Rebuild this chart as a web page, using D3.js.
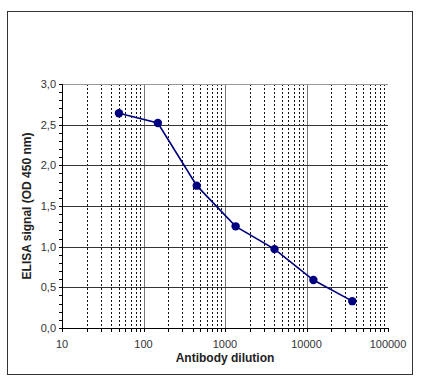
<!DOCTYPE html>
<html>
<head>
<meta charset="utf-8">
<script src="https://cdn.jsdelivr.net/npm/d3@7"></script>
<style>
  body { margin: 0; background: #fff; }
  text { font-family: "Liberation Sans", Arial, sans-serif; }
</style>
</head>
<body>
<div id="chart"></div>
<script>
// ELISA titration data
const dilutions = [50, 150, 450, 1350, 4050, 12150, 36450];
const signals = [2.64, 2.52, 1.75, 1.25, 0.97, 0.59, 0.33];
const xTicks = [10, 100, 1000, 10000, 100000];
const yTicks = [0, 0.5, 1, 1.5, 2, 2.5, 3];

const width = 421, height = 384;
const margin = { left: 62, right: 33, top: 84, bottom: 56 };

const svg = d3.select("#chart").append("svg")
    .attr("width", width)
    .attr("height", height);

// outer frame
svg.append("rect")
    .attr("x", 7.5).attr("y", 11.5)
    .attr("width", 405).attr("height", 363)
    .attr("fill", "none")
    .attr("stroke", "#333")
    .attr("stroke-width", 1);

const x = d3.scaleLog()
    .domain([10, 100000])
    .range([margin.left, width - margin.right]);

const y = d3.scaleLinear()
    .domain([0, 3])
    .range([height - margin.bottom, margin.top]);

// minor vertical grid (dashed)
const minor = [];
for (let e = 1; e < 5; e++) {
    for (let m = 2; m <= 9; m++) minor.push(m * Math.pow(10, e));
}
svg.append("g")
    .selectAll("line")
    .data(minor)
    .join("line")
    .attr("x1", d => Math.round(x(d)) + 0.5)
    .attr("x2", d => Math.round(x(d)) + 0.5)
    .attr("y1", y(3))
    .attr("y2", y(0))
    .attr("stroke", "#111")
    .attr("stroke-dasharray", "2,2");

// major vertical grid
svg.append("g")
    .selectAll("line")
    .data(xTicks.slice(1, -1))
    .join("line")
    .attr("x1", d => Math.round(x(d)) + 0.5)
    .attr("x2", d => Math.round(x(d)) + 0.5)
    .attr("y1", y(3))
    .attr("y2", y(0))
    .attr("stroke", "#777");

// horizontal grid
svg.append("g")
    .selectAll("line")
    .data(yTicks.slice(1))
    .join("line")
    .attr("x1", x(10))
    .attr("x2", x(100000))
    .attr("y1", d => Math.round(y(d)) + 0.5)
    .attr("y2", d => Math.round(y(d)) + 0.5)
    .attr("stroke", d => d === 3 ? "#999" : "#333");

// y axis
const yMinor = d3.range(0, 3.01, 0.1);
const yAxis = svg.append("g");
yAxis.append("line")
    .attr("x1", margin.left + 0.5).attr("x2", margin.left + 0.5)
    .attr("y1", y(3)).attr("y2", y(0))
    .attr("stroke", "#000");
yAxis.selectAll("line.tick")
    .data(yMinor)
    .join("line")
    .attr("class", "tick")
    .attr("x1", margin.left - 3).attr("x2", margin.left)
    .attr("y1", d => Math.round(y(d)) + 0.5)
    .attr("y2", d => Math.round(y(d)) + 0.5)
    .attr("stroke", "#000");
yAxis.selectAll("text")
    .data(yTicks)
    .join("text")
    .attr("x", margin.left - 6)
    .attr("y", d => y(d))
    .attr("dy", "0.35em")
    .attr("text-anchor", "end")
    .attr("font-size", 11)
    .attr("fill", "#333")
    .text(d => d3.format(".1f")(d).replace(".", ","));

// x axis
const xAxis = svg.append("g");
xAxis.append("line")
    .attr("x1", x(10)).attr("x2", x(100000))
    .attr("y1", y(0) + 0.5).attr("y2", y(0) + 0.5)
    .attr("stroke", "#000");
xAxis.selectAll("line.tick")
    .data(minor.concat(xTicks))
    .join("line")
    .attr("class", "tick")
    .attr("x1", d => Math.round(x(d)) + 0.5)
    .attr("x2", d => Math.round(x(d)) + 0.5)
    .attr("y1", y(0))
    .attr("y2", y(0) + 4)
    .attr("stroke", "#000");
xAxis.selectAll("text")
    .data(xTicks)
    .join("text")
    .attr("x", d => x(d))
    .attr("y", y(0) + 20)
    .attr("text-anchor", "middle")
    .attr("font-size", 11)
    .attr("fill", "#333")
    .text(d => d);

// axis titles
svg.append("text")
    .attr("x", (x(10) + x(100000)) / 2)
    .attr("y", 362)
    .attr("text-anchor", "middle")
    .attr("font-size", 12)
    .attr("font-weight", "bold")
    .attr("fill", "#222")
    .text("Antibody dilution");

svg.append("text")
    .attr("transform", `translate(31,${(y(0) + y(3)) / 2}) rotate(-90)`)
    .attr("text-anchor", "middle")
    .attr("font-size", 12)
    .attr("font-weight", "bold")
    .attr("fill", "#222")
    .text("ELISA signal (OD 450 nm)");

// data line and markers
const pts = dilutions.map((d, i) => [d, signals[i]]);
svg.append("path")
    .datum(pts)
    .attr("fill", "none")
    .attr("stroke", "#000080")
    .attr("stroke-width", 1.6)
    .attr("d", d3.line().x(d => x(d[0])).y(d => y(d[1])));

svg.append("g")
    .selectAll("circle")
    .data(pts)
    .join("circle")
    .attr("cx", d => x(d[0]))
    .attr("cy", d => y(d[1]))
    .attr("r", 4.2)
    .attr("fill", "#000080");
</script>
</body>
</html>
